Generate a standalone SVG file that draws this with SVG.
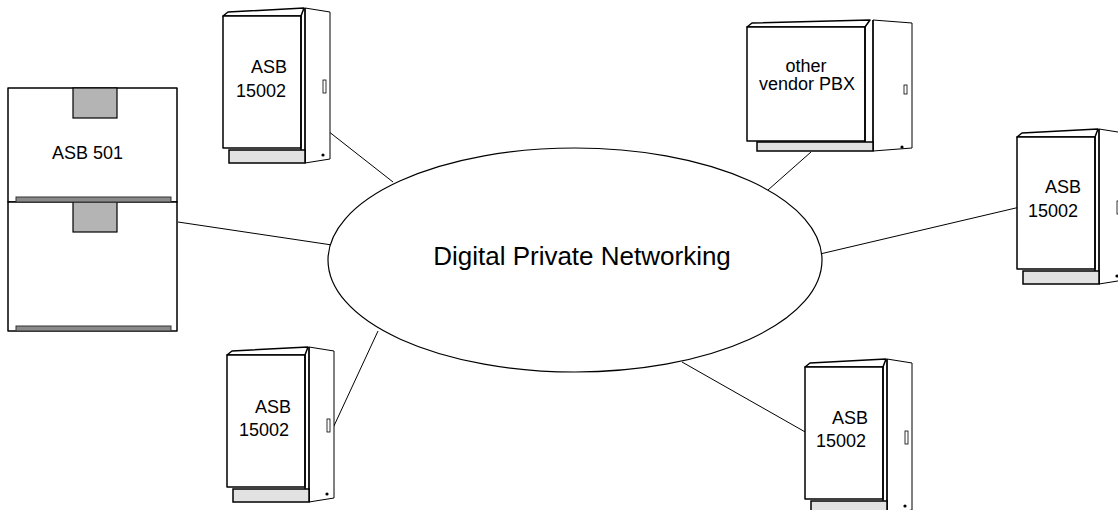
<svg xmlns="http://www.w3.org/2000/svg" xmlns:xlink="http://www.w3.org/1999/xlink" width="1118" height="510" viewBox="0 0 1118 510">
  <style>
    .edge { fill: #fff; stroke: #000; stroke-width: 1.5; stroke-linejoin: round; }
    .side { fill: #fff; stroke: #000; stroke-width: 1; }
    .plinth { fill: #e2e2e2; stroke: #000; stroke-width: 1.5; }
    .thin { fill: #fff; stroke: #000; stroke-width: 0.8; }
    .block { fill: #b4b4b4; stroke: #000; stroke-width: 1.2; }
    .bar { fill: #8a8a8a; stroke: #333; stroke-width: 1; }
    .link { fill: none; stroke: #000; stroke-width: 1; }
    .lbl { font-family: "Liberation Sans", Arial, sans-serif; font-size: 18px; fill: #000; }
    .title { font-family: "Liberation Sans", Arial, sans-serif; font-size: 26px; fill: #000; }
  </style>
  <defs>
    <!-- standard floor cabinet, origin at the top-left corner of the door -->
    <g id="cab">
      <polygon class="side" points="82,-8 107,-4 107,143 82,147"/>
      <polygon class="edge" points="0,0 5,-4 81,-8 78,0"/>
      <rect class="edge" x="0" y="0" width="78" height="132"/>
      <line class="edge" x1="82" y1="-8" x2="82" y2="147"/>
      <line class="edge" x1="78" y1="0" x2="78" y2="134"/>
      <rect class="plinth" x="6" y="134" width="76" height="13"/>
      <rect class="thin" x="100" y="64" width="3" height="13"/>
      <circle cx="100" cy="139" r="1.6" fill="#000"/>
    </g>
  </defs>

  <!-- connectors -->
  <g id="connectors">
    <line class="link" x1="328" y1="131" x2="393" y2="182"/>
    <line class="link" x1="178" y1="222" x2="332" y2="245"/>
    <line class="link" x1="378" y1="331" x2="333" y2="428"/>
    <line class="link" x1="811" y1="152" x2="768" y2="190"/>
    <line class="link" x1="820" y1="254" x2="1020" y2="207"/>
    <line class="link" x1="682" y1="362" x2="807" y2="433"/>
  </g>

  <!-- central network -->
  <g id="network">
    <ellipse cx="575" cy="260" rx="247" ry="112" fill="#fff" stroke="#000" stroke-width="1.2"/>
    <text class="title" x="582" y="265" text-anchor="middle">Digital Private Networking</text>
  </g>

  <!-- ASB 501 two-tier unit -->
  <g id="asb501">
    <rect class="edge" x="8" y="88" width="169" height="114" stroke-width="1.2"/>
    <rect class="edge" x="8" y="202" width="169" height="129" stroke-width="1.2"/>
    <rect class="block" x="73" y="88" width="44" height="30"/>
    <rect class="block" x="73" y="202" width="44" height="30"/>
    <rect class="bar" x="16" y="197" width="155" height="5"/>
    <rect class="bar" x="16" y="326" width="155" height="5"/>
    <text class="lbl" x="52" y="159">ASB 501</text>
  </g>

  <!-- ASB 15002, top left -->
  <g id="asb15002-a">
    <use xlink:href="#cab" transform="translate(223,16)"/>
    <text class="lbl" x="251" y="73">ASB</text>
    <text class="lbl" x="236" y="97">15002</text>
  </g>

  <!-- ASB 15002, bottom left -->
  <g id="asb15002-b">
    <use xlink:href="#cab" transform="translate(227,355)"/>
    <text class="lbl" x="255" y="413">ASB</text>
    <text class="lbl" x="239" y="436">15002</text>
  </g>

  <!-- other vendor PBX -->
  <g id="pbx">
    <polygon class="side" points="126,-7 165,-4 165,121 126,124" transform="translate(747,27)"/>
    <g transform="translate(747,27)">
      <polygon class="edge" points="0,0 5,-4 123,-7 118,0"/>
      <rect class="edge" x="0" y="0" width="118" height="114"/>
      <line class="edge" x1="126" y1="-7" x2="126" y2="124"/>
      <line class="edge" x1="118" y1="0" x2="118" y2="115"/>
      <rect class="plinth" x="10" y="115" width="116" height="9"/>
      <rect class="thin" x="157" y="58" width="3" height="9"/>
      <circle cx="155" cy="120" r="1.6" fill="#000"/>
    </g>
    <text class="lbl" x="806" y="72" text-anchor="middle">other</text>
    <text class="lbl" x="807" y="90" text-anchor="middle">vendor PBX</text>
  </g>

  <!-- ASB 15002, right -->
  <g id="asb15002-c">
    <use xlink:href="#cab" transform="translate(1017,137)"/>
    <text class="lbl" x="1045" y="193">ASB</text>
    <text class="lbl" x="1028" y="217">15002</text>
  </g>

  <!-- ASB 15002, bottom right -->
  <g id="asb15002-d">
    <use xlink:href="#cab" transform="translate(805,367)"/>
    <text class="lbl" x="832" y="424">ASB</text>
    <text class="lbl" x="816" y="447">15002</text>
  </g>
</svg>
